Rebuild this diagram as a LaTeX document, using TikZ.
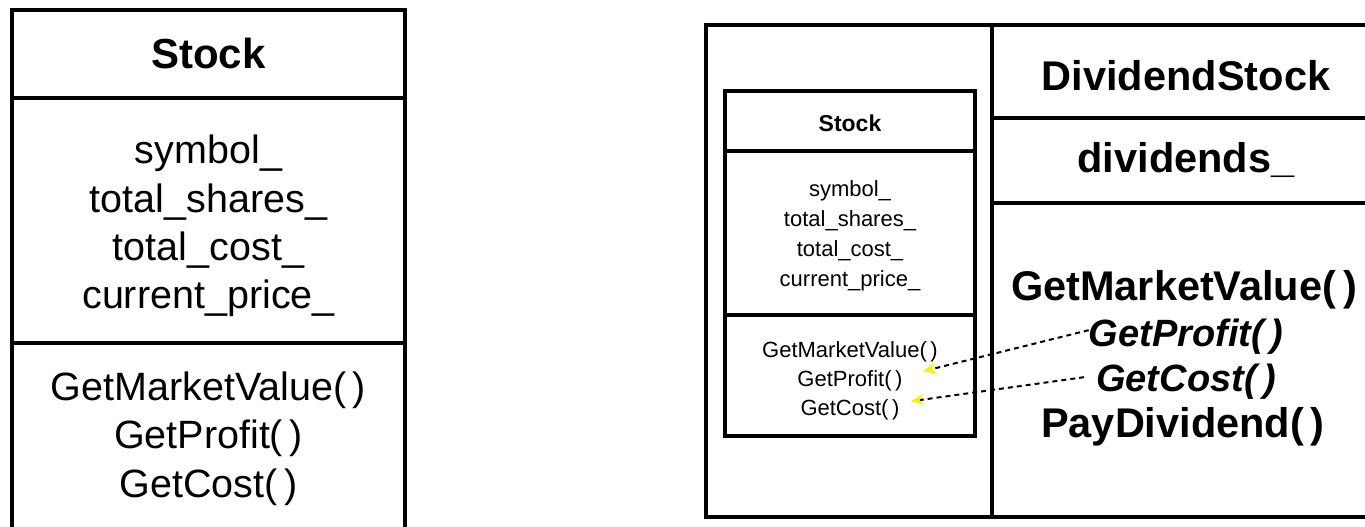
\documentclass[tikz,border=0pt]{standalone}
\usepackage{fontspec}
\setmainfont{Liberation Sans}
\usetikzlibrary{arrows.meta}

\tikzset{
  box/.style={line width=4pt},
  bigtext/.style={anchor=base,inner sep=0pt,font=\fontsize{39.5}{48}\selectfont},
  bighead/.style={anchor=base,inner sep=0pt,font=\fontsize{42}{48}\selectfont\bfseries},
  smalltext/.style={anchor=base,inner sep=0pt,font=\fontsize{22}{29}\selectfont},
  smallhead/.style={anchor=base,inner sep=0pt,font=\fontsize{23}{29}\selectfont\bfseries},
  subhead/.style={anchor=base,inner sep=0pt,font=\fontsize{41.5}{48}\selectfont\bfseries},
  subital/.style={anchor=base,inner sep=0pt,font=\fontsize{38}{46}\selectfont\bfseries\itshape},
  link/.style={line width=2pt,dash pattern=on 5pt off 4pt,-{Stealth[color=yellow,length=13pt,width=11pt]}}
}

\begin{document}
\begin{tikzpicture}[x=1pt,y=-1pt]
      \clip (0,0) rectangle (1365,527);
      \fill[white] (0,0) rectangle (1365,527);

      \draw[box] (12,540) -- (12,10) -- (405,10) -- (405,540);
      \draw[box] (12,98) -- (405,98);
      \draw[box] (12,343) -- (405,343);
      \node[bighead] (stock) at (208.5,68) {Stock};
      \node[bigtext] (sym) at (208.5,163) {symbol\_};
      \node[bigtext] (shares) at (208.5,212) {total\_shares\_};
      \node[bigtext] (cost) at (208.5,260) {total\_cost\_};
      \node[bigtext] (price) at (208.5,308) {current\_price\_};
      \node[bigtext] (mv) at (208.5,400) {GetMarketValue(\,)};
      \node[bigtext] (profit) at (208.5,448) {GetProfit(\,)};
      \node[bigtext] (getcost) at (208.5,497) {GetCost(\,)};

      \draw[box] (706,25) rectangle (1380,517);
      \draw[box] (992,25) -- (992,517);
      \draw[box] (992,118) -- (1380,118);
      \draw[box] (992,203) -- (1380,203);
      \node[subhead] (dstock) at (1186,90) {DividendStock};
      \node[subhead] (divs) at (1186,172) {dividends\_};
      \node[subhead] (rmv) at (1184,300) {GetMarketValue(\,)};
      \node[subital] (rprofit) at (1186,346) {GetProfit(\,)};
      \node[subital] (rcost) at (1186,391) {GetCost(\,)};
      \node[subhead] (pay) at (1183,437) {PayDividend(\,)};

      \draw[box] (725,91) rectangle (975,436);
      \draw[box] (725,151) -- (975,151);
      \draw[box] (725,315) -- (975,315);
      \node[smallhead] (istock) at (850,131) {Stock};
      \node[smalltext] (isym) at (850,196) {symbol\_};
      \node[smalltext] (ishares) at (850,226) {total\_shares\_};
      \node[smalltext] (icost) at (850,256) {total\_cost\_};
      \node[smalltext] (iprice) at (850,286) {current\_price\_};
      \node[smalltext] (imv) at (850,357) {GetMarketValue(\,)};
      \node[smalltext] (iprofit) at (850,386) {GetProfit(\,)};
      \node[smalltext] (igetcost) at (850,415) {GetCost(\,)};

      \draw[link] ([yshift=6pt]rprofit.west) -- ([xshift=20pt,yshift=9pt]iprofit.east);
      \draw[link] ([xshift=-12pt,yshift=4pt]rcost.west) -- ([xshift=11pt,yshift=8pt]igetcost.east);
    \end{tikzpicture}
\end{document}
